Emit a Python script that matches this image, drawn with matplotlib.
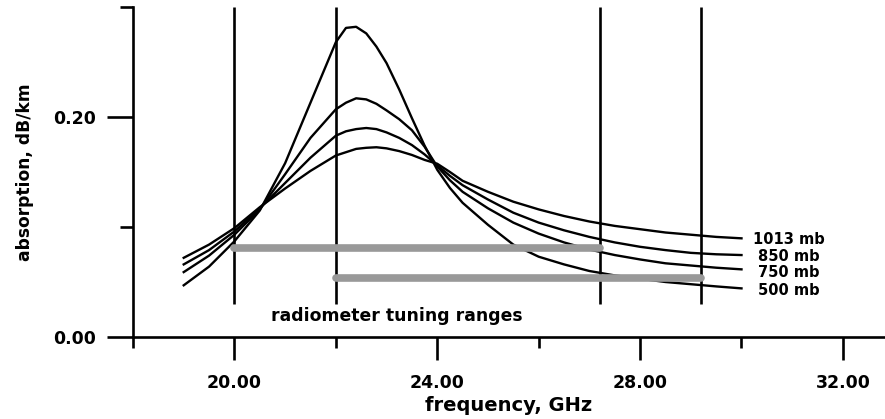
import numpy as np
from matplotlib import pyplot as plt
from matplotlib.ticker import MultipleLocator, FormatStrFormatter

plt.rcParams['font.family'] = ['DejaVu Sans']
plt.rcParams['font.weight'] = 'bold'

# frequency, GHz
freq = [19.0, 19.5, 20.0, 20.5, 21.0, 21.5, 22.0, 22.2, 22.4, 22.6, 22.8, 23.0,
        23.25, 23.5, 23.75, 24.0, 24.25, 24.5, 25.0, 25.5, 26.0, 26.5, 27.0, 27.5, 28.0,
        28.5, 29.0, 29.5, 30.0]

# absorption, dB/km
a1013 = [0.072, 0.084, 0.099, 0.118, 0.135, 0.151, 0.165, 0.168, 0.171, 0.172, 0.1725, 0.1715,
         0.169, 0.1655, 0.161, 0.1575, 0.150, 0.142, 0.132, 0.123, 0.116, 0.110, 0.105, 0.101,
         0.098, 0.095, 0.093, 0.091, 0.0897]
a850 = [0.066, 0.079, 0.096, 0.117, 0.140, 0.163, 0.183, 0.187, 0.189, 0.190, 0.189, 0.186,
        0.181, 0.1745, 0.166, 0.156, 0.1465, 0.138, 0.125, 0.113, 0.104, 0.097, 0.091, 0.086,
        0.082, 0.079, 0.0765, 0.0752, 0.0745]
a750 = [0.059, 0.074, 0.093, 0.116, 0.148, 0.181, 0.207, 0.213, 0.217, 0.216, 0.212, 0.206,
        0.198, 0.188, 0.173, 0.155, 0.1425, 0.132, 0.117, 0.104, 0.094, 0.086, 0.0795, 0.0745,
        0.0705, 0.067, 0.065, 0.063, 0.0615]
a500 = [0.047, 0.064, 0.087, 0.115, 0.158, 0.213, 0.268, 0.281, 0.282, 0.276, 0.264, 0.249,
        0.225, 0.199, 0.174, 0.152, 0.1355, 0.122, 0.102, 0.084, 0.073, 0.066, 0.060, 0.056,
        0.053, 0.050, 0.048, 0.046, 0.0442]

curves = [a1013, a850, a750, a500]
labels = ['1013 mb', '850 mb', '750 mb', '500 mb']
label_y = [0.089, 0.073, 0.0585, 0.042]
label_x = 30.94

# radiometer band edges and tuning ranges
edges = [20.0, 22.0, 27.2, 29.2]
ranges = [(20.0, 27.2, 0.081), (22.0, 29.2, 0.054)]

fig = plt.figure(figsize=(8.85, 4.19), dpi=100)
ax = fig.add_axes([133/885, 82/419, 752/885, 330/419])

for a in curves:
    ax.plot(freq, a, 'k-', lw=1.7, clip_on=False)

ax.vlines(edges, 0.03, 0.30, color='k', lw=1.9, clip_on=False)

for x0, x1, y in ranges:
    ax.plot([x0, x1], [y, y], color='#999999', lw=5.5, solid_capstyle='round', zorder=3)

for lab, y in zip(labels, label_y):
    ax.text(label_x, y, lab, ha='center', va='center', fontsize=10.5, fontweight='bold')

ax.text(23.2, 0.019, 'radiometer tuning ranges', ha='center', va='center',
        fontsize=12.4, fontweight='bold')

ax.set_xlim(18, 32.83)
ax.set_ylim(0, 0.30)
ax.spines['top'].set_visible(False)
ax.spines['right'].set_visible(False)
for s in ['left', 'bottom']:
    ax.spines[s].set_linewidth(1.9)

ax.xaxis.set_major_locator(MultipleLocator(4))
ax.xaxis.set_minor_locator(MultipleLocator(2))
ax.yaxis.set_major_locator(MultipleLocator(0.2))
ax.yaxis.set_minor_locator(MultipleLocator(0.1))
ax.xaxis.set_major_formatter(FormatStrFormatter('%.2f'))
ax.yaxis.set_major_formatter(FormatStrFormatter('%.2f'))
ax.set_xticks([20, 24, 28, 32])

ax.tick_params(axis='x', which='major', length=16.5, width=1.9, pad=10, labelsize=12.5)
ax.tick_params(axis='x', which='minor', length=8, width=1.9)
ax.tick_params(axis='y', which='major', length=18.5, width=1.9, pad=8, labelsize=12.5)
ax.tick_params(axis='y', which='minor', length=9.5, width=1.9)
for t in ax.get_xticklabels() + ax.get_yticklabels():
    t.set_fontweight('bold')

ax.set_xlabel('frequency, GHz', fontsize=14, fontweight='bold', labelpad=3)
ax.set_ylabel('absorption, dB/km', fontsize=12.3, fontweight='bold', labelpad=14)

fig.savefig('out.png', dpi=100)
